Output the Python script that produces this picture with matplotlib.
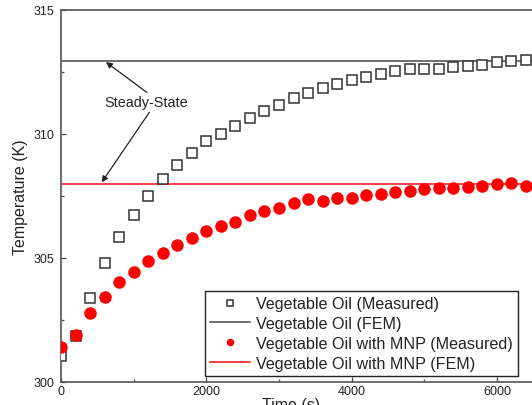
import matplotlib
matplotlib.use("Agg")
import matplotlib.pyplot as plt
from matplotlib.ticker import MultipleLocator

plt.rcParams["font.family"] = ["Liberation Sans", "DejaVu Sans"]

time_s = list(range(0, 6401, 200))
oil_measured = [301.05, 301.87, 303.39, 304.80, 305.86, 306.75, 307.50, 308.18,
                308.75, 309.25, 309.73, 310.00, 310.34, 310.65, 310.94, 311.18,
                311.44, 311.64, 311.84, 312.02, 312.19, 312.31, 312.40, 312.53,
                312.62, 312.63, 312.64, 312.71, 312.74, 312.80, 312.89, 312.96,
                313.00]
mnp_measured = [301.40, 301.90, 302.77, 303.44, 304.02, 304.42, 304.89, 305.21,
                305.52, 305.79, 306.07, 306.28, 306.47, 306.73, 306.90, 307.02,
                307.23, 307.39, 307.31, 307.43, 307.40, 307.55, 307.60, 307.66,
                307.70, 307.77, 307.83, 307.81, 307.86, 307.90, 307.97, 308.01,
                307.92]
oil_fem = 312.95
mnp_fem = 308.0

W, H = 532, 406
fig = plt.figure(figsize=(W / 100, H / 100), dpi=100)
ax = fig.add_axes([61 / W, 23 / H, 508.6 / W, 372 / H])

ax.axhline(oil_fem, color="#555555", lw=1.2, label="Vegetable Oil (FEM)", zorder=1)
ax.axhline(mnp_fem, color="#ff2020", lw=1.2, label="Vegetable Oil with MNP (FEM)", zorder=1)
ax.plot(time_s, oil_measured, ls="none", marker="s", ms=6.8, mfc="white",
        mec="#333333", mew=1.1, label="Vegetable Oil (Measured)", zorder=3)
ax.plot(time_s, mnp_measured, ls="none", marker="o", ms=9, mfc="red",
        mec="red", mew=0, label="Vegetable Oil with MNP (Measured)", zorder=3)

ax.set_xlim(0, 7000)
ax.set_ylim(300, 315)
ax.xaxis.set_major_locator(MultipleLocator(2000))
ax.xaxis.set_minor_locator(MultipleLocator(1000))
ax.yaxis.set_major_locator(MultipleLocator(5))
ax.yaxis.set_minor_locator(MultipleLocator(2.5))
ax.tick_params(which="both", direction="in", colors="#444444", labelcolor="#222222",
               labelsize=9)
ax.tick_params(which="major", length=3.5, width=0.9)
ax.tick_params(which="minor", length=2.2, width=0.9)
ax.tick_params(axis="x", pad=2)
ax.tick_params(axis="y", pad=5)
for s in ax.spines.values():
    s.set_color("#555555")
    s.set_linewidth(1.2)

ax.set_ylabel("Temperature (K)", fontsize=11.5, color="#222222")
ax.yaxis.set_label_coords(-(61 - 28) / 508.6, 0.5)
ax.set_xlabel("Time (s)", fontsize=11.5, color="#222222", va="top")
ax.xaxis.set_label_coords((291 - 61) / 508.6, -(398 - 383) / 372)

ax.text(1170, 311.29, "Steady-State", fontsize=10.4, ha="center", va="center",
        color="#222222")
arrow = dict(arrowstyle="-|>", color="#222222", lw=0.9, mutation_scale=9,
             shrinkA=0, shrinkB=0)
ax.annotate("", xy=(619, 312.9), xytext=(1180, 311.68), arrowprops=arrow)
ax.annotate("", xy=(560, 308.05), xytext=(1215, 310.87), arrowprops=arrow)

handles, labels = ax.get_legend_handles_labels()
order = [2, 0, 3, 1]
leg = ax.legend([handles[i] for i in order], [labels[i] for i in order],
                loc="upper left", bbox_to_anchor=(205 / W, 1 - 292 / H),
                bbox_transform=fig.transFigure, fontsize=11.6, frameon=True,
                fancybox=False, framealpha=1, edgecolor="#222222",
                borderaxespad=0, borderpad=0.32, handlelength=2.5,
                handletextpad=0.35, labelspacing=0.3, markerscale=0.6)
leg.get_frame().set_linewidth(1.0)
for t in leg.get_texts():
    t.set_color("#222222")

fig.savefig("out.png", dpi=100)
